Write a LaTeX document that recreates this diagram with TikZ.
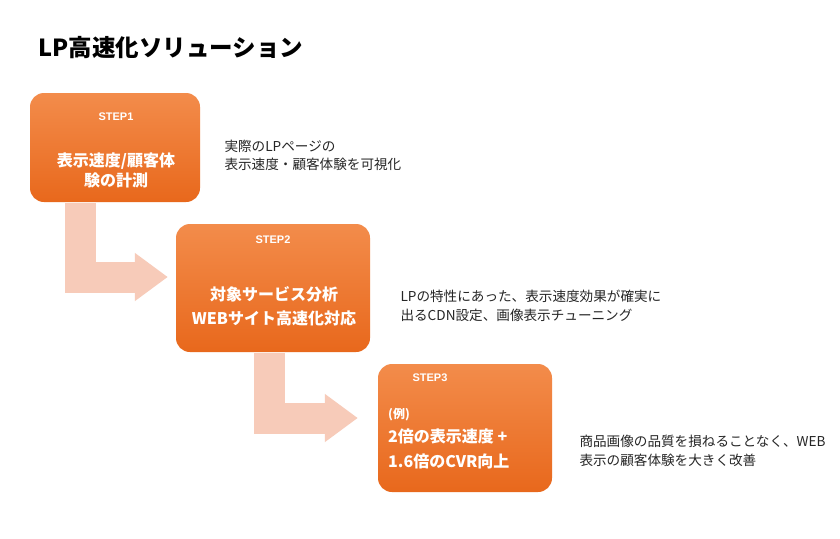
\documentclass[tikz,border=0pt]{standalone}
\usepackage{fontspec}
\setmainfont{Noto Sans CJK JP}
\newfontfamily\steplatin{Liberation Sans}
\usetikzlibrary{arrows.meta,calc}
\definecolor{boxtop}{HTML}{F38C4B}
\definecolor{boxbottom}{HTML}{E8681C}
\definecolor{flowpink}{HTML}{F7CBB9}
\begin{document}
\begin{tikzpicture}[x=1pt,y=-1pt,
  stepbox/.style={rounded corners=14pt,top color=boxtop,bottom color=boxbottom,draw=none},
  steplabel/.style={text=white,font=\steplatin\bfseries\fontsize{11}{13}\selectfont},
  stepmain/.style={text=white,align=center,font=\bfseries\fontsize{16}{20}\selectfont},
  flow/.style={draw=flowpink,line width=31pt,-{Triangle[length=33pt,width=46pt]}},
  note/.style={anchor=west,align=left,text=black!85,font=\fontsize{13.6}{18.5}\selectfont}]
\useasboundingbox (0,0) rectangle (840,538);
\fill[white] (0,0) rectangle (840,538);
\node[anchor=west,font=\bfseries\fontsize{23.5}{28}\selectfont] (title) at (35,48) {LP高速化ソリューション};

\node[stepbox,minimum width=170pt,minimum height=109pt] (step1) at (115,147.5) {};
\node[stepbox,minimum width=194pt,minimum height=128pt] (step2) at (273,288) {};
\node[stepbox,minimum width=174pt,minimum height=128pt] (step3) at (465,428) {};

\draw[flow] ($(step1.south west)+(50.5,1)$) |- ($(step2.west)+(-8,-11)$);
\draw[flow] ($(step2.south west)+(94,1)$) |- ($(step3.west)+(-20,-10)$);

\node[steplabel] (label1) at (116,117) {STEP1};
\node[stepmain,font=\bfseries\fontsize{16}{20}\selectfont] (main1) at (116,170) {表示速度/顧客体\\験の計測};
\node[steplabel] (label2) at (273,240) {STEP2};
\node[stepmain,font=\bfseries\fontsize{16}{24}\selectfont] (main2) at (274,306) {対象サービス分析\\WEBサイト高速化対応};
\node[steplabel] (label3) at (430,378) {STEP3};
\node[stepmain,anchor=north west,align=left,inner sep=0pt,font=\bfseries\fontsize{16}{24.5}\selectfont] (main3) at (388,408) {{\fontsize{12}{12}\selectfont (例)}\\2倍の表示速度 +\\1.6倍のCVR向上};

\node[note] (note1) at (221,155.5) {実際のLPページの\\表示速度・顧客体験を可視化};
\node[note] (note2) at (397,306) {LPの特性にあった、表示速度効果が確実に\\出るCDN設定、画像表示チューニング};
\node[note] (note3) at (576,451) {商品画像の品質を損ねることなく、WEB\\表示の顧客体験を大きく改善};
\end{tikzpicture}
\end{document}
